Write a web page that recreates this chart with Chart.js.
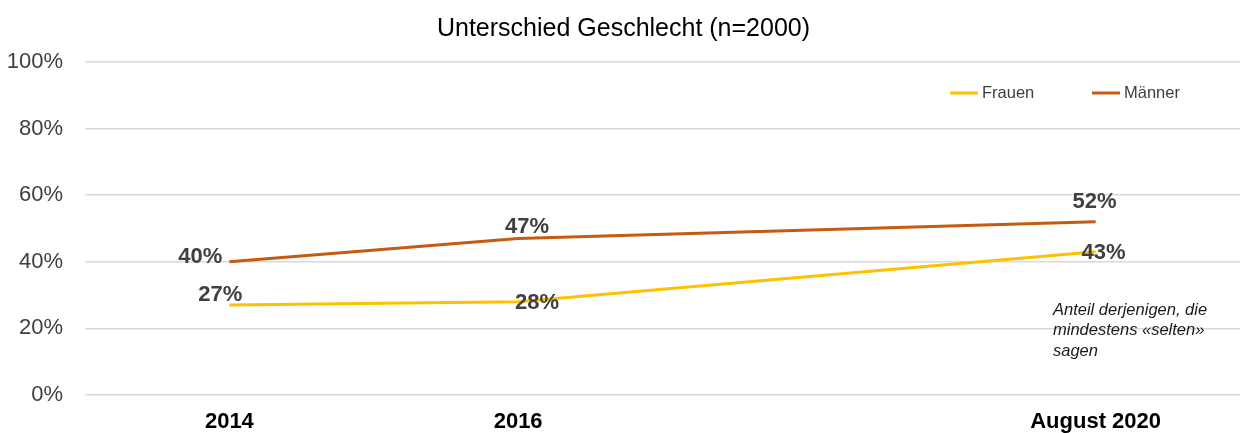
<!DOCTYPE html>
<html>
<head>
<meta charset="utf-8">
<script src="https://cdn.jsdelivr.net/npm/chart.js@4"></script>
<style>
  html, body { margin: 0; padding: 0; background: #fff; }
  #wrap { width: 1240px; height: 433px; }
</style>
</head>
<body>
<div id="wrap"><canvas id="chart"></canvas></div>
<script>
const categories = ['2014', '2016', '', 'August 2020'];
const frauen = [27, 28, null, 43];
const maenner = [40, 47, null, 52];
const note = ['Anteil derjenigen, die', 'mindestens «selten»', 'sagen'];

// where each value label sits relative to its point: dx, dy, align
const frauenLabelPos = [[-9, -10, 'center'], [19, 1, 'center'], null, [8, 1, 'center']];
const maennerLabelPos = [[-7, -5, 'right'], [9, -12, 'center'], null, [-1, -20, 'center']];

const FONT = '"Liberation Sans", Arial, sans-serif';

const valueLabels = {
  id: 'valueLabels',
  afterDatasetsDraw(chart) {
    const ctx = chart.ctx;
    ctx.save();
    ctx.font = 'bold 22px ' + FONT;
    ctx.fillStyle = '#404040';
    ctx.textBaseline = 'middle';
    chart.data.datasets.forEach((ds, i) => {
      const meta = chart.getDatasetMeta(i);
      meta.data.forEach((pt, j) => {
        const v = ds.data[j];
        const pos = ds.labelPos[j];
        if (v == null || !pos) return;
        ctx.textAlign = pos[2];
        ctx.fillText(Math.round(v) + '%', pt.x + pos[0], pt.y + pos[1]);
      });
    });
    ctx.restore();
  }
};

// legend and note sit inside the plot area, so draw them by hand
const extras = {
  id: 'extras',
  afterDraw(chart) {
    const ctx = chart.ctx;
    ctx.save();
    ctx.font = '16.5px ' + FONT;
    ctx.textBaseline = 'middle';
    ctx.textAlign = 'left';
    const legendX = [950, 1092];
    chart.data.datasets.forEach((ds, i) => {
      const x = legendX[i], y = 93;
      ctx.strokeStyle = ds.borderColor;
      ctx.lineWidth = 3;
      ctx.beginPath();
      ctx.moveTo(x, y);
      ctx.lineTo(x + 28, y);
      ctx.stroke();
      ctx.fillStyle = '#404040';
      ctx.fillText(ds.label, x + 32, y);
    });
    ctx.font = 'italic 16.5px ' + FONT;
    ctx.fillStyle = '#1a1a1a';
    note.forEach((line, k) => ctx.fillText(line, 1053, 310 + k * 20.5));
    ctx.restore();
  }
};

new Chart(document.getElementById('chart'), {
  type: 'line',
  data: {
    labels: categories,
    datasets: [{
      label: 'Frauen',
      data: frauen,
      borderColor: '#FFC000',
      backgroundColor: '#FFC000',
      labelPos: frauenLabelPos
    }, {
      label: 'Männer',
      data: maenner,
      borderColor: '#C55A11',
      backgroundColor: '#C55A11',
      labelPos: maennerLabelPos
    }]
  },
  options: {
    responsive: true,
    maintainAspectRatio: false,
    animation: false,
    spanGaps: true,
    elements: {
      line: { borderWidth: 3, tension: 0 },
      point: { radius: 0, hoverRadius: 0 }
    },
    layout: { padding: { left: 7, right: 0, top: 0, bottom: 0 } },
    plugins: {
      legend: { display: false },
      tooltip: { enabled: false },
      title: {
        display: true,
        text: 'Unterschied Geschlecht (n=2000)',
        color: '#000',
        font: { family: FONT, size: 25, weight: 'normal' },
        padding: { top: 14, bottom: 18 }
      }
    },
    scales: {
      x: {
        offset: true,
        grid: { display: false, drawTicks: false },
        border: { display: false },
        ticks: {
          color: '#000',
          font: { family: FONT, size: 22, weight: 'bold' },
          padding: 14,
          maxRotation: 0
        },
        afterFit: s => { s.height = 38; }
      },
      y: {
        min: 0,
        max: 100,
        grid: { color: '#d9d9d9', lineWidth: 1.5, drawTicks: false },
        border: { display: false },
        ticks: {
          stepSize: 20,
          color: '#404040',
          font: { family: FONT, size: 22 },
          padding: 22,
          callback: v => v + '%'
        },
        afterFit: s => { s.width = 78; }
      }
    }
  },
  plugins: [valueLabels, extras]
});
</script>
</body>
</html>
